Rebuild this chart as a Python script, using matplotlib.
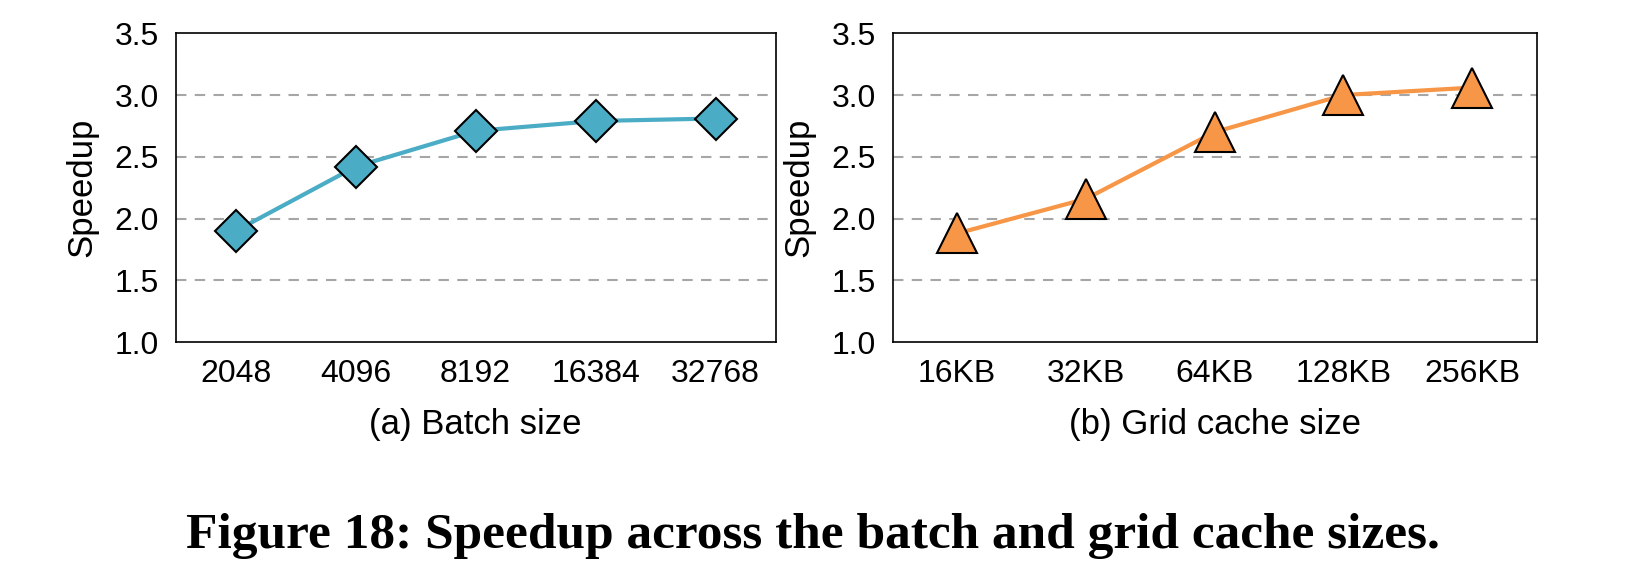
import matplotlib
matplotlib.use("Agg")
import matplotlib.pyplot as plt

batch_labels = ["2048", "4096", "8192", "16384", "32768"]
batch_speedup = [1.90, 2.42, 2.71, 2.79, 2.81]
cache_labels = ["16KB", "32KB", "64KB", "128KB", "256KB"]
cache_speedup = [1.88, 2.16, 2.70, 3.00, 3.06]

plt.rcParams['font.family'] = ['Liberation Sans', 'DejaVu Sans']
fig = plt.figure(figsize=(16.26, 5.83), dpi=100)
ax1 = fig.add_axes([0.108, 0.413, 0.369, 0.530])
ax2 = fig.add_axes([0.549, 0.413, 0.396, 0.530])

for ax, labels, vals, color, marker, ms, sub in [
    (ax1, batch_labels, batch_speedup, "#4BACC6", "D", 21, "(a) Batch size"),
    (ax2, cache_labels, cache_speedup, "#F79646", "^", 29, "(b) Grid cache size"),
]:
    x = list(range(len(labels)))
    ax.plot(x, vals, color=color, lw=3, marker=marker, ms=ms,
            markerfacecolor=color, markeredgecolor="black", markeredgewidth=1.5, zorder=3)
    ax.set_ylim(1.0, 3.5)
    ax.set_yticks([1.0, 1.5, 2.0, 2.5, 3.0, 3.5])
    ax.set_yticklabels(["1.0", "1.5", "2.0", "2.5", "3.0", "3.5"])
    ax.set_xlim(-0.5, len(labels) - 0.5)
    ax.set_xticks(x)
    ax.set_xticklabels(labels)
    for yv in [1.5, 2.0, 2.5, 3.0]:
        ax.axhline(yv, color="#A6A6A6", ls=(0, (5, 4)), lw=1.5, zorder=1)
    ax.tick_params(axis="both", labelsize=23, length=0, pad=12)
    ax.set_ylabel("Speedup", fontsize=25, labelpad=12)
    ax.set_xlabel(sub, fontsize=25, labelpad=14)
    for s in ax.spines.values():
        s.set_color("black")
        s.set_linewidth(1.2)

fig.text(0.5, 0.08, "Figure 18: Speedup across the batch and grid cache sizes.",
         ha="center", va="center", fontsize=37, fontweight="bold",
         family=["Liberation Serif", "DejaVu Serif"])
fig.savefig("out.png", dpi=100)
